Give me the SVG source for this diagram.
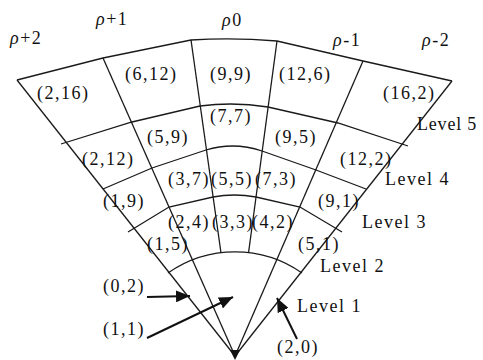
<svg xmlns="http://www.w3.org/2000/svg" width="483" height="360" viewBox="0 0 483 360">
<style>
.g{fill:none;stroke:#1a1a1a;stroke-width:1.3}
.t{font-family:"Liberation Serif","Times New Roman",serif;font-size:18px;fill:#111;letter-spacing:1.5px}
.r{font-style:italic}
.a{stroke:#111;stroke-width:2;fill:none}
</style>
<defs>
<marker id="ah" markerWidth="14" markerHeight="12" refX="14" refY="6" orient="auto" markerUnits="userSpaceOnUse"><path d="M0,0 L14,6 L0,12 z" fill="#111"/></marker>
</defs>
<rect width="483" height="360" fill="#fff"/>
<g id="grid">
<path class="g" d="M17,80 L103,58 L191,40 Q234,37.5 277,41 L363,61 L452,81"/>
<path class="g" d="M61,144 L132,122 L200,106 Q234,101.5 268,107 L338,123 L408,146"/>
<path class="g" d="M103,189 L152,168 L206,150 Q234,141.5 262,151 L316,170 L366,189"/>
<path class="g" d="M128,232 L169,207 L213,197 Q234,193 256,197 L300,207 L342,232"/>
<path class="g" d="M168,273 A117,117 0 0 1 302,273"/>
<path class="g" d="M17,80 L235,356"/>
<path class="g" d="M452,81 L235,356"/>
<path class="g" d="M103,58 L235,356"/>
<path class="g" d="M363,61 L235,356"/>
<path class="g" d="M191,40 L221,253"/>
<path class="g" d="M277,41 L248.5,253"/>
<polygon points="230,350 240,350 235,360" fill="#111"/>
</g>
<g id="rho-labels">
<text class="t" x="10" y="44"><tspan class="r">ρ</tspan>+2</text>
<text class="t" x="96" y="25"><tspan class="r">ρ</tspan>+1</text>
<text class="t" x="222" y="26"><tspan class="r">ρ</tspan>0</text>
<text class="t" x="333" y="46"><tspan class="r">ρ</tspan>-1</text>
<text class="t" x="422" y="46"><tspan class="r">ρ</tspan>-2</text>
</g>
<g id="level5">
<g id="c2-16"><text class="t" x="37" y="99">(2,16)</text></g>
<g id="c6-12"><text class="t" x="125" y="80">(6,12)</text></g>
<g id="c9-9"><text class="t" x="210" y="80">(9,9)</text></g>
<g id="c12-6"><text class="t" x="279" y="80">(12,6)</text></g>
<g id="c16-2"><text class="t" x="383" y="99">(16,2)</text></g>
</g>
<g id="level4">
<g id="c2-12"><text class="t" x="82" y="165">(2,12)</text></g>
<g id="c5-9"><text class="t" x="147" y="143">(5,9)</text></g>
<g id="c7-7"><text class="t" x="210" y="122">(7,7)</text></g>
<g id="c9-5"><text class="t" x="275" y="143">(9,5)</text></g>
<g id="c12-2"><text class="t" x="340" y="165">(12,2)</text></g>
</g>
<g id="level3">
<g id="c1-9"><text class="t" x="103" y="207">(1,9)</text></g>
<g id="c3-7"><text class="t" x="168" y="185">(3,7)</text></g>
<g id="c5-5"><text class="t" x="211" y="185">(5,5)</text></g>
<g id="c7-3"><text class="t" x="255" y="185">(7,3)</text></g>
<g id="c9-1"><text class="t" x="318" y="207">(9,1)</text></g>
</g>
<g id="level2">
<g id="c1-5"><text class="t" x="147" y="250">(1,5)</text></g>
<g id="c2-4"><text class="t" x="168" y="228">(2,4)</text></g>
<g id="c3-3"><text class="t" x="212" y="228">(3,3)</text></g>
<g id="c4-2"><text class="t" x="252" y="228">(4,2)</text></g>
<g id="c5-1"><text class="t" x="298" y="250">(5,1)</text></g>
</g>
<g id="level1">
<g id="c0-2"><text class="t" x="103" y="292">(0,2)</text></g>
<g id="c1-1"><text class="t" x="103" y="335">(1,1)</text></g>
<g id="c2-0"><text class="t" x="277" y="353">(2,0)</text></g>
</g>
<g id="level-labels">
<text class="t" x="417" y="130" style="letter-spacing:0.8px">Level 5</text>
<text class="t" x="385" y="185">Level 4</text>
<text class="t" x="362" y="228">Level 3</text>
<text class="t" x="320" y="272">Level 2</text>
<text class="t" x="297" y="312">Level 1</text>
</g>
<g id="connectors">
<line class="a" x1="147" y1="297" x2="190" y2="296" marker-end="url(#ah)"/>
<line class="a" x1="147" y1="338" x2="233" y2="297" marker-end="url(#ah)"/>
<line class="a" x1="297" y1="339" x2="277" y2="298" marker-end="url(#ah)"/>
</g>
</svg>
